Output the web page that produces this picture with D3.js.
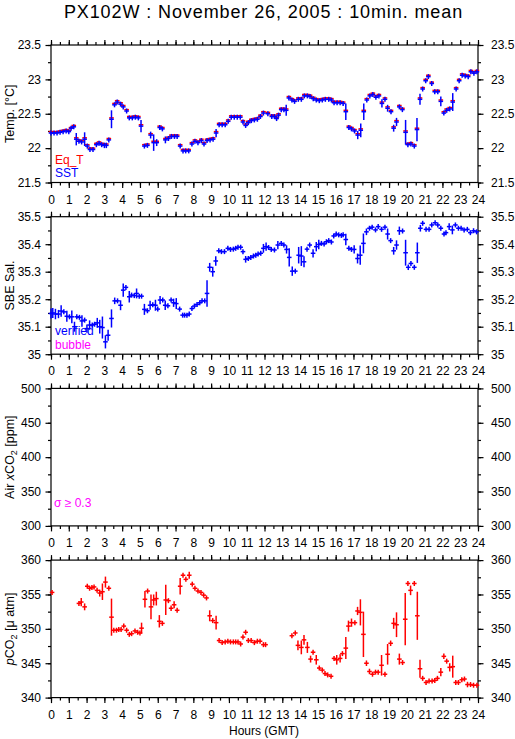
<!DOCTYPE html>
<html><head><meta charset="utf-8">
<script src="https://cdn.jsdelivr.net/npm/d3@7"></script>
<style>body{margin:0;background:#fff} text{font-family:"Liberation Sans",Arial,Helvetica,sans-serif}</style>
</head><body><svg id="c" width="515" height="739"></svg>
<script>
// ---------- DATA ----------
const hourLabels = [0,1,2,3,4,5,6,7,8,9,10,11,12,13,14,15,16,17,18,19,20,21,22,23,24];
const tempTicks = [21.5,22,22.5,23,23.5];
const salTicks = [35,35.1,35.2,35.3,35.4,35.5];
const airTicks = [300,350,400,450,500];
const pco2Ticks = [340,345,350,355,360];

const sstTime = [0.00,0.17,0.34,0.51,0.68,0.85,1.00,1.13,1.28,1.42,1.57,1.72,1.89,2.04,2.19,2.36,2.55,2.70,2.85,3.00,
3.11,3.25,3.40,3.57,3.72,3.91,4.06,4.25,4.40,4.57,4.74,4.91,5.06,5.25,5.42,5.60,5.77,5.94,6.11,6.26,
6.43,6.60,6.77,6.94,7.09,7.26,7.42,7.57,7.74,7.92,8.09,8.26,8.45,8.60,8.77,8.94,9.11,9.28,9.45,9.62,
9.79,9.96,10.13,10.30,10.47,10.64,10.79,10.94,11.09,11.26,11.43,11.60,11.77,11.94,
12.19,12.41,12.56,12.68,12.79,12.94,13.09,13.22,13.37,13.54,13.69,13.90,14.07,14.24,14.41,14.56,14.74,14.91,15.08,15.25,
15.42,15.61,15.76,15.91,16.08,16.25,16.42,16.57,16.74,16.89,17.06,17.24,17.41,17.58,17.75,17.92,18.09,18.26,18.43,18.60,
18.77,18.92,19.11,19.26,19.42,19.58,19.75,19.93,20.06,20.23,20.42,20.57,20.74,20.89,21.06,21.21,21.40,21.57,21.74,21.91,
22.08,22.24,22.41,22.58,22.77,22.94,23.11,23.28,23.45,23.60,23.77,23.94];
const sstVal = [22.22,22.22,22.22,22.23,22.24,22.25,22.24,22.29,22.31,22.13,22.10,22.09,22.13,22.03,21.98,21.98,22.05,22.07,22.05,22.04,
22.04,22.12,22.42,22.63,22.67,22.64,22.60,22.54,22.44,22.44,22.45,22.44,22.32,22.03,22.04,22.19,22.08,22.08,22.30,22.28,
22.12,22.14,22.17,22.17,22.17,22.03,21.96,21.96,21.96,22.06,22.10,22.08,22.11,22.06,22.11,22.12,22.13,22.22,22.34,22.34,
22.34,22.39,22.45,22.45,22.45,22.45,22.38,22.33,22.37,22.40,22.41,22.42,22.46,22.51,
22.50,22.46,22.46,22.43,22.48,22.56,22.56,22.55,22.73,22.70,22.68,22.71,22.71,22.76,22.76,22.75,22.72,22.70,22.69,22.70,
22.71,22.71,22.70,22.66,22.66,22.66,22.65,22.53,22.30,22.28,22.25,22.19,22.26,22.53,22.70,22.76,22.78,22.74,22.76,22.65,
22.71,22.58,22.53,22.29,22.38,22.60,22.56,22.23,22.05,22.06,22.03,22.27,22.71,22.86,22.98,23.04,22.94,22.82,22.82,22.68,
22.51,22.55,22.57,22.67,22.86,22.98,23.06,23.05,23.04,23.11,23.09,23.11];
const sstErr = [0,0,0,0,0,0,0,0,0,0.09,0,0,0.10,0,0,0,0,0,0,0.04,
0.04,0,0.13,0,0,0,0,0,0,0,0,0,0.09,0.03,0,0.05,0.12,0.05,0,0,
0.05,0,0,0,0,0,0,0,0,0,0,0,0,0,0,0,0,0.06,0,0,
0,0,0,0,0,0,0,0,0,0,0,0,0,0,
0.03,0,0,0,0,0,0,0.08,0,0,0,0,0,0,0,0,0,0,0,0,
0,0,0,0,0,0,0,0.12,0,0,0,0.06,0.10,0.12,0,0,0,0,0,0.06,
0,0.05,0,0.05,0.06,0.03,0,0.18,0,0,0,0.17,0.08,0,0.03,0,0,0,0,0.07,
0,0,0,0.13,0,0,0,0,0,0,0,0];
const eqtVal = [22.24,22.24,22.24,22.25,22.26,22.27,22.26,22.30,22.33,22.15,22.12,22.11,22.15,22.05,22.00,22.00,22.07,22.09,22.07,22.06,
22.06,22.14,22.44,22.65,22.69,22.66,22.62,22.56,22.46,22.46,22.47,22.46,22.34,22.05,22.06,22.21,22.10,22.10,22.32,22.30,
22.14,22.16,22.19,22.19,22.19,22.05,21.98,21.98,21.98,22.08,22.12,22.10,22.13,22.08,22.13,22.14,22.15,22.24,22.36,22.36,
22.36,22.41,22.47,22.47,22.47,22.47,22.40,22.35,22.39,22.42,22.43,22.44,22.48,22.53,
22.52,22.48,22.48,22.45,22.50,22.58,22.58,22.57,22.75,22.72,22.70,22.73,22.73,22.78,22.78,22.77,22.74,22.72,22.71,22.72,
22.73,22.73,22.72,22.68,22.68,22.68,22.67,22.55,22.32,22.30,22.27,22.21,22.28,22.55,22.72,22.78,22.80,22.76,22.78,22.67,
22.73,22.60,22.55,22.31,22.40,22.62,22.58,22.25,22.07,22.08,22.05,22.29,22.73,22.88,23.00,23.06,22.96,22.84,22.84,22.70,
22.53,22.57,22.59,22.69,22.88,23.00,23.08,23.07,23.06,23.13,23.11,23.13];

const salTime = [0.00,0.10,0.25,0.42,0.57,0.72,0.89,1.04,1.17,1.32,1.45,1.60,1.74,1.89,2.02,2.17,2.32,2.45,2.60,2.74,
2.89,3.06,3.21,3.40,3.58,3.74,3.91,4.06,4.21,4.40,4.53,4.68,4.81,4.96,5.09,5.25,5.42,5.57,5.72,5.87,
6.00,6.13,6.28,6.42,6.57,6.75,6.89,7.04,7.23,7.40,7.51,7.64,7.77,7.92,8.06,8.21,8.36,8.49,8.64,8.77,
8.92,9.09,9.26,9.43,9.58,9.75,9.94,10.09,10.25,10.38,10.51,10.66,10.79,10.94,11.09,11.23,11.38,11.51,11.64,11.79,
11.94,12.09,12.23,12.38,12.56,12.75,12.94,13.09,13.24,13.39,13.56,13.73,13.92,14.07,14.22,14.39,14.54,14.73,14.91,15.05,
15.20,15.35,15.48,15.61,15.76,15.89,16.03,16.17,16.32,16.42,16.57,16.74,16.89,17.04,17.23,17.38,17.56,17.73,17.90,18.05,
18.24,18.39,18.58,18.77,18.92,19.09,19.26,19.42,19.58,19.76,19.93,20.08,20.23,20.42,20.59,20.76,20.89,21.08,21.25,21.40,
21.59,21.74,21.91,22.09,22.20,22.38,22.56,22.73,22.90,23.05,23.22,23.40,23.57,23.75,23.92];
const salVal = [35.148,35.150,35.146,35.146,35.157,35.154,35.138,35.136,35.136,35.100,35.136,35.134,35.121,35.124,35.093,35.106,35.106,35.109,35.114,35.100,
35.097,35.045,35.069,35.130,35.194,35.194,35.178,35.233,35.243,35.209,35.215,35.213,35.221,35.211,35.211,35.163,35.158,35.178,35.180,35.178,
35.164,35.197,35.197,35.178,35.176,35.197,35.187,35.184,35.164,35.142,35.142,35.142,35.146,35.166,35.175,35.181,35.187,35.194,35.194,35.221,
35.316,35.300,35.339,35.376,35.373,35.373,35.385,35.381,35.382,35.385,35.389,35.389,35.373,35.345,35.348,35.352,35.357,35.360,35.364,35.367,
35.385,35.391,35.388,35.381,35.379,35.397,35.403,35.397,35.381,35.352,35.302,35.302,35.360,35.357,35.336,35.382,35.397,35.367,35.391,35.399,
35.403,35.401,35.409,35.413,35.408,35.430,35.437,35.434,35.432,35.434,35.417,35.385,35.381,35.381,35.348,35.360,35.403,35.445,35.458,35.462,
35.452,35.464,35.454,35.462,35.437,35.413,35.376,35.397,35.449,35.448,35.369,35.316,35.330,35.316,35.369,35.458,35.476,35.454,35.454,35.470,
35.478,35.470,35.458,35.437,35.442,35.464,35.452,35.470,35.458,35.458,35.452,35.454,35.442,35.449,35.445];
const salErr = [0.018,0.018,0.019,0.015,0.021,0,0.020,0,0.023,0.018,0,0,0.021,0,0.015,0.017,0,0,0.018,0.025,
0.040,0.024,0.020,0.033,0.012,0,0.018,0.024,0,0.021,0,0,0.018,0,0,0.020,0,0.016,0,0.020,
0,0.015,0,0.017,0,0,0.015,0.020,0,0,0,0,0,0,0,0,0,0,0,0.048,
0.016,0.018,0.017,0,0,0,0,0,0,0,0,0,0,0.012,0,0,0,0,0,0,
0.016,0.015,0,0,0,0.015,0,0,0.015,0.033,0.017,0,0.030,0.036,0.020,0,0,0.015,0.017,0.017,
0,0,0,0,0,0,0,0,0,0,0.021,0,0,0.015,0.018,0.035,0.036,0.012,0,0,
0,0,0,0,0.020,0,0.014,0.017,0.015,0,0.047,0.010,0,0,0.037,0.012,0,0,0,0,
0,0,0,0,0,0.012,0.016,0,0,0,0,0,0,0,0];

const pco2Time = [0.06,1.57,1.70,1.89,2.04,2.17,2.30,2.42,2.59,2.74,2.89,3.06,3.25,3.40,3.53,3.68,3.81,3.94,4.09,4.25,
4.40,4.53,4.72,4.87,5.00,5.09,5.28,5.43,5.62,5.77,5.92,6.09,6.26,6.45,6.60,6.75,6.92,7.09,7.26,7.42,
7.58,7.77,7.94,8.09,8.26,8.43,8.58,8.74,8.92,9.09,9.28,9.45,9.62,9.79,9.94,10.09,10.25,10.38,10.51,10.66,
10.79,10.94,11.09,11.25,11.43,11.60,11.75,11.94,12.06,
13.54,13.73,13.88,14.07,14.22,14.41,14.59,14.73,14.91,15.08,15.25,15.40,15.55,15.74,15.91,16.06,16.25,16.38,16.57,16.72,
16.89,17.08,17.23,17.39,17.56,17.73,17.90,18.07,18.24,18.39,18.58,18.77,18.92,19.09,19.26,19.42,19.58,19.76,19.91,20.06,
20.21,20.42,20.59,20.74,20.89,21.08,21.25,21.42,21.57,21.72,21.91,22.08,22.24,22.41,22.58,22.75,22.90,23.09,23.24,23.41,
23.58,23.75,23.94];
const pco2Val = [355.3,353.7,353.9,353.2,356.2,355.9,356.0,356.1,355.6,355.2,355.4,356.8,355.9,351.7,349.8,349.8,349.9,349.9,350.4,349.8,
349.2,349.3,349.7,349.5,349.4,350.1,354.3,355.5,353.2,354.2,354.4,351.1,350.8,354.2,354.1,353.0,353.5,352.7,356.2,357.8,
357.2,357.8,356.5,355.9,355.5,355.3,354.9,354.5,351.9,351.2,350.9,348.3,348.0,348.1,348.2,348.1,348.1,348.1,348.1,347.8,
348.8,349.5,348.3,348.3,348.0,348.2,348.2,347.7,347.7,
349.0,349.4,347.6,347.3,348.4,347.3,345.6,346.6,345.5,344.3,344.0,343.5,343.3,343.1,345.7,345.5,345.7,346.4,347.2,350.4,
350.9,350.9,352.6,352.4,349.2,345.0,343.8,343.4,343.7,343.7,344.7,343.4,346.3,347.9,350.8,350.6,345.6,345.1,351.4,356.6,
355.6,356.6,351.9,344.2,342.8,342.2,342.4,342.4,342.5,342.8,343.7,346.0,345.3,344.4,344.5,342.2,342.2,342.6,342.7,341.9,
341.9,341.8,341.8];
const pco2Err = [0,0,0.6,0.5,0,0,0,0,0,0.5,1.2,0.8,0,2.7,0,0,0,0,0.3,0,
0,0,0,0,0,0.8,1.2,0,1.8,0.8,1.0,0.9,0,2.2,0,0.4,0.5,0,1.2,0,
0,0.5,0,0,0,0,0,0,0.8,0,1.0,0,0,0,0,0,0,0,0,0,
0,0,0,0,0,0,0,0,0,
0,0,0.7,1.0,0.7,0.8,0.5,0,0.7,0,0,0,0,0,0,0.7,0.6,0,1.6,0.8,
0.6,0,0.6,1.9,3.3,0.4,0.4,0,0,0,1.5,0,1.5,0.4,0.8,1.8,0.8,0,3.8,0,
0.7,0,3.5,1.3,0,0,0,0,0,0,0.6,0.4,0,0.6,1.6,0,0,0,0,0.4,
0,0,0];

// ---------- LAYOUT ----------
const L = 51, R = 478, TOP0 = 45, PH = 137.5, STEP = 171.7;
const svg = d3.select("#c");
const x = d3.scaleLinear().domain([0, 24]).range([L, R]);
const halfHours = d3.range(0, 49).map(k => k / 2);

svg.append("text").attr("x", 263.5).attr("y", 17.5).attr("text-anchor", "middle")
  .style("font-size", "18px").style("letter-spacing", "0.9px").text("PX102W : November 26, 2005 : 10min. mean");

function fmt(v) { return String(+v.toFixed(2)); }

function makePanel(i, domain, majors, minorStep) {
  const top = TOP0 + i * STEP, bottom = top + PH;
  const y = d3.scaleLinear().domain(domain).range([bottom, top]);
  const g = svg.append("g");
  const minors = d3.range(0, Math.round((domain[1] - domain[0]) / minorStep) + 1).map(k => domain[0] + k * minorStep);

  g.append("rect").attr("x", L).attr("y", top).attr("width", R - L).attr("height", PH)
    .attr("fill", "#fff").attr("stroke", "#000").attr("stroke-width", 1.2);

  const styleAxis = (sel) => { sel.select(".domain").remove(); sel.selectAll("line").attr("stroke", "#000").attr("stroke-width", 1.2);
    sel.selectAll("text").style("font-size", "12px").attr("fill", "#000").style("font-family", '"Liberation Sans",Arial,sans-serif'); };

  g.append("g").attr("transform", `translate(${L},0)`).call(d3.axisLeft(y).tickValues(minors).tickSize(3).tickFormat("")).call(styleAxis);
  g.append("g").attr("transform", `translate(${L},0)`).call(d3.axisLeft(y).tickValues(majors).tickSize(5.5).tickPadding(4.5).tickFormat(fmt)).call(styleAxis);
  g.append("g").attr("transform", `translate(${R},0)`).call(d3.axisRight(y).tickValues(minors).tickSize(3).tickFormat("")).call(styleAxis);
  g.append("g").attr("transform", `translate(${R},0)`).call(d3.axisRight(y).tickValues(majors).tickSize(5.5).tickPadding(7.5).tickFormat(fmt)).call(styleAxis);
  g.append("g").attr("transform", `translate(0,${top})`).call(d3.axisTop(x).tickValues(halfHours).tickSize(3).tickFormat("")).call(styleAxis);
  g.append("g").attr("transform", `translate(0,${top})`).call(d3.axisTop(x).tickValues(hourLabels).tickSize(5).tickFormat("")).call(styleAxis);
  g.append("g").attr("transform", `translate(0,${bottom})`).call(d3.axisBottom(x).tickValues(halfHours).tickSize(3).tickFormat("")).call(styleAxis);
  g.append("g").attr("transform", `translate(0,${bottom})`).call(d3.axisBottom(x).tickValues(hourLabels).tickSize(5.5).tickPadding(7).tickFormat(d => d)).call(styleAxis);

  return { g, y, top, bottom };
}

function drawMarks(p, times, vals, errs, color, vertical) {
  const mg = p.g.append("g").attr("stroke", color).attr("stroke-width", 1.5);
  times.forEach((t, k) => {
    const v = vals[k]; if (v == null) return;
    const cx = x(t), cy = p.y(v);
    mg.append("line").attr("x1", cx - 2.3).attr("x2", cx + 2.3).attr("y1", cy).attr("y2", cy);
    if (vertical) {
      const e = errs ? errs[k] : 0;
      const y1 = Math.min(p.y(v + e), cy - 2.5), y2 = Math.max(p.y(v - e), cy + 2.5);
      mg.append("line").attr("x1", cx).attr("x2", cx).attr("y1", y1).attr("y2", y2);
    }
  });
}

function yTitle(cy, parts) {
  const t = svg.append("text").attr("transform", `translate(14,${cy}) rotate(-90)`).attr("text-anchor", "middle").style("font-size", "12.5px");
  parts.forEach(pt => {
    const s = t.append("tspan").text(pt.t);
    if (pt.it) s.style("font-style", "italic");
    if (pt.sub) s.attr("dy", 3).style("font-size", "9px");
    if (pt.after) s.attr("dy", -3);
  });
}

const LEG = "12px";
// Panel 1: temperature
const p1 = makePanel(0, [21.5, 23.5], tempTicks, 0.25);
drawMarks(p1, sstTime, eqtVal, null, "#ff0000", false);
drawMarks(p1, sstTime, sstVal, sstErr, "#0000ff", true);
p1.g.append("text").attr("x", 55).attr("y", p1.bottom - 19).attr("fill", "#ff0000").style("font-size", LEG).text("Eq_T");
p1.g.append("text").attr("x", 55).attr("y", p1.bottom - 5.5).attr("fill", "#0000ff").style("font-size", LEG).text("SST");
yTitle((p1.top + p1.bottom) / 2, [{t: "Temp. [°C]"}]);

// Panel 2: salinity
const p2 = makePanel(1, [35, 35.5], salTicks, 0.05);
drawMarks(p2, salTime, salVal, salErr, "#0000ff", true);
p2.g.append("text").attr("x", 55).attr("y", p2.bottom - 19).attr("fill", "#0000ff").style("font-size", LEG).text("verified");
p2.g.append("text").attr("x", 55).attr("y", p2.bottom - 5.5).attr("fill", "#ff00ff").style("font-size", LEG).text("bubble");
yTitle((p2.top + p2.bottom) / 2, [{t: "SBE Sal."}]);

// Panel 3: air xCO2 (no data)
const p3 = makePanel(2, [300, 500], airTicks, 25);
p3.g.append("text").attr("x", 54).attr("y", p3.bottom - 18.5).attr("fill", "#ff00ff").style("font-size", LEG).text("σ ≥ 0.3");
yTitle((p3.top + p3.bottom) / 2, [{t: "Air "}, {t: "x", it: true}, {t: "CO"}, {t: "2", sub: true}, {t: " [ppm]", after: true}]);

// Panel 4: pCO2
const p4 = makePanel(3, [340, 360], pco2Ticks, 2.5);
drawMarks(p4, pco2Time, pco2Val, pco2Err, "#ff0000", true);
yTitle((p4.top + p4.bottom) / 2, [{t: "p", it: true}, {t: "CO"}, {t: "2", sub: true}, {t: " [μ atm]", after: true}]);

svg.append("text").attr("x", 264).attr("y", 735).attr("text-anchor", "middle").style("font-size", "12px").text("Hours (GMT)");
</script></body></html>
